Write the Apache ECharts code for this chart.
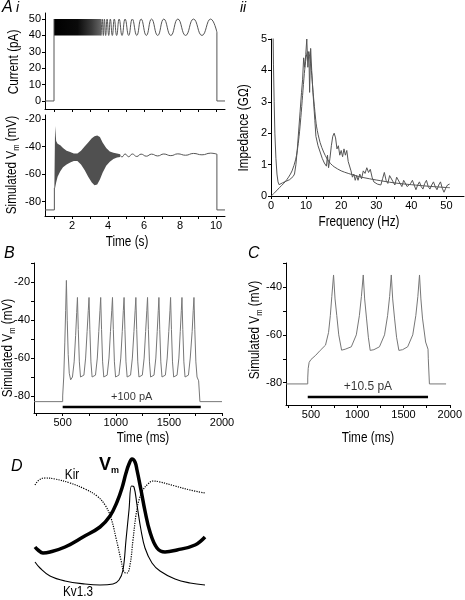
<!DOCTYPE html>
<html><head><meta charset="utf-8">
<script src="https://cdn.jsdelivr.net/npm/echarts@6/dist/echarts.min.js"></script>
<style>html,body{margin:0;padding:0;background:#fff}#c{width:465px;height:600px}</style>
</head><body><div id="c"></div>
<script>
// ---------- Panel A i : chirp current ----------
const curPreT = [0.5, 1.0, 1.0];
const curPreV = [0, 0, 50];
const curDenseT = [1.0, 3.62];          // dense (unresolved) oscillation range
const curDenseRange = [40, 50];
const curWaveT = [3.62,3.68,3.74,3.80,3.87,3.95,4.04,4.13,4.24,4.35,4.48,4.62,4.78,4.95,5.15,5.35,5.60,5.84,6.13,6.42,6.76,7.10,7.49,7.88,8.31,8.75,9.22,9.70,10.05];
const curWaveV = [40,50,40,50,40,50,40,50,40,50,40,50,40,50,40,50,40,50,40,50,40,50,40,50,40,50,40,50,42];
const curPostT = [10.05, 10.05, 10.5];
const curPostV = [42, 0, 0];

// ---------- Panel A i : simulated Vm ----------
const vmPreT = [0.5, 1.02, 1.02];
const vmPreV = [-86, -86, -70];
const vmEnvT    = [1.02,1.06,1.12,1.2,1.35,1.5,1.7,1.9,2.1,2.3,2.5,2.7,2.9,3.1,3.25,3.4,3.55,3.7,3.9,4.1,4.3,4.5,4.68];
const vmEnvHigh = [-70,-25,-36,-38,-39,-41,-43,-44,-45,-45,-43,-40,-37,-34,-32.5,-32,-33,-37,-41,-43.5,-44.5,-45,-45.5];
const vmEnvLow  = [-70,-70,-66,-62,-58,-55,-53,-51.5,-50.5,-50.5,-53,-57,-62,-66,-68,-67.5,-64,-59,-54,-51,-49,-48,-47.5];
const vmWaveT = [4.68,4.78,4.95,5.15,5.35,5.60,5.84,6.13,6.42,6.76,7.10,7.49,7.88,8.31,8.75,9.22,9.70,10.05];
const vmWaveV = [-46.5,-47.5,-45.4,-47.4,-45.4,-47.2,-45.5,-47,-45.5,-46.8,-45.4,-46.6,-45.3,-46.3,-45,-46,-44.8,-45.5];
const vmPostT = [10.05, 10.05, 10.5];
const vmPostV = [-45.5, -86, -86];

// ---------- Panel A ii : impedance ----------
const impExpF = [0.6,0.7,0.9,1.1,1.4,1.7,2.0,2.3,2.8,3.3,3.8,4.3,4.8,5.3,5.8,6.3,6.7,7.1,7.5,7.9,8.3,8.7,9.0,9.3,9.6,9.9,10.2,10.5,10.8,11.0,11.3,11.6,11.9,12.2,12.5,12.8,13.1,13.4,13.7,14.0,14.3,14.6,14.9,15.2,15.5,15.8,16.1,16.4,16.8,17.2,17.6,18.0,18.4,18.8,19.2,19.6,20.0,20.4,20.8,21.2,21.6,22.0,22.4,22.8,23.2,23.6,24.0,24.4,24.8,25.3,25.8,26.3,26.8,27.3,27.8,28.3,28.8,29.3,29.8,30.3,30.8,31.3,31.8,32.3,32.8,33.3,33.8,34.3,34.8,35.3,35.8,36.3,36.8,37.3,37.8,38.3,38.8,39.3,39.8,40.3,40.8,41.3,41.8,42.3,42.8,43.3,43.8,44.3,44.8,45.3,45.8,46.3,46.8,47.3,47.8,48.3,48.8,49.3,49.8,50.3,50.9];
const impExpZ = [5.1,4.2,3.0,2.0,1.2,0.7,0.45,0.36,0.38,0.42,0.4,0.47,0.45,0.52,0.5,0.62,0.7,1.0,1.5,2.1,2.7,3.3,3.7,4.4,4.1,4.5,5.0,4.1,4.6,3.3,4.7,4.0,3.4,2.9,2.4,1.9,1.75,1.6,1.65,1.4,1.45,1.2,1.25,1.05,1.1,0.95,1.3,0.9,1.2,1.6,1.9,2.0,1.85,1.5,1.6,1.3,1.45,1.25,1.5,1.3,1.45,1.1,1.15,0.8,0.6,0.7,0.5,0.65,0.5,0.7,0.55,0.8,0.72,0.9,0.75,0.85,0.6,0.45,0.5,0.38,0.42,0.35,0.55,0.75,0.5,0.4,0.65,0.7,0.45,0.35,0.6,0.65,0.4,0.3,0.5,0.55,0.3,0.25,0.4,0.5,0.35,0.2,0.35,0.45,0.3,0.22,0.4,0.5,0.3,0.22,0.35,0.45,0.3,0.2,0.35,0.45,0.25,0.12,0.25,0.35,0.38];
const impModF = [0,1,2,3,4,5,6,7,7.5,8,8.5,9,9.5,10,10.5,11,11.5,12,12.5,13,14,15,16,17,18,20,22,25,28,30,35,40,45,50,51];
const impModZ = [0,0.1,0.22,0.33,0.45,0.6,0.8,1.15,1.45,1.9,2.5,3.2,3.9,4.4,4.6,4.45,4.0,3.3,2.7,2.2,1.7,1.4,1.18,1.03,0.93,0.8,0.72,0.62,0.55,0.51,0.42,0.36,0.31,0.27,0.265];

// ---------- Panel B : +100 pA ----------
const bT = [230,500,500,510,520,528,535,543,552,562,575,592,608,622,632,639,647,657,668,682,700,716,730,741,748,756,766,777,791,809,826,840,851,858,866,876,887,901,919,936,950,962,969,977,987,998,1012,1030,1047,1061,1071,1078,1086,1096,1107,1121,1139,1156,1171,1182,1189,1197,1207,1218,1232,1250,1267,1281,1292,1299,1307,1317,1328,1342,1360,1377,1390,1400,1406,1414,1424,1435,1449,1467,1484,1499,1510,1516,1524,1534,1545,1559,1577,1594,1607,1617,1623,1631,1641,1652,1666,1684,1701,1719,1729,1736,1744,1754,1765,1780,1792,1792,2000];
const bV = [-83,-83,-80,-70,-52,-35,-19,-40,-58,-68,-71.5,-70,-62,-48,-36,-28,-45,-62,-70,-71,-69,-60,-46,-35,-28,-45,-62,-70,-71,-69,-60,-46,-35,-28,-45,-62,-70,-71,-69,-60,-46,-35,-28,-45,-62,-70,-71,-69,-60,-46,-35,-28,-45,-62,-70,-71,-69,-60,-46,-35,-28,-45,-62,-70,-71,-69,-60,-46,-35,-28,-45,-62,-70,-71,-69,-60,-46,-35,-28,-45,-62,-70,-71,-69,-60,-46,-35,-28,-45,-62,-70,-71,-69,-60,-46,-35,-28,-45,-62,-70,-71,-69,-60,-46,-35,-28,-45,-62,-70,-72,-72,-83,-83];
const bStim = [500, 1800];
const bStimLevel = -85.8;
const bStimText = '+100 pA';

// ---------- Panel C : +10.5 pA ----------
const cT = [230,465,465,470,480,500,552,600,657,690,709,725,744,760,779,800,831,870,936,990,1023,1045,1065,1080,1100,1120,1140,1180,1240,1295,1328,1350,1368,1383,1403,1425,1450,1490,1545,1600,1633,1655,1673,1688,1705,1739,1765,1768,1780,1960];
const cV = [-80.5,-80.5,-78,-74,-71.5,-70.3,-68.5,-66.5,-64.3,-59,-52,-44,-35,-45,-52,-60,-66.4,-66,-65,-60,-52,-44,-35,-45,-53,-61,-66.5,-66.2,-65,-60,-52,-44,-35,-45,-53,-61,-66.5,-66.2,-65,-60,-52,-44,-35,-45,-53,-63,-66,-70,-80.5,-80.5];
const cStim = [465, 1765];
const cStimLevel = -86;
const cStimText = '+10.5 pA';

// ---------- Panel D : schematic ----------
const dVmT  = [0,3,8,15,30,48,65,75,82,87,91,94,97,100,102,106,110,115,122,130,142,160,170];
const dVmY  = [43,40,37,38,43,53,63,74,88,102,117,126,131,128,120,100,79,58,42,38,40,45,53];
const dKirT = [0,4,10,20,35,50,62,70,76,81,86,89,92,95,98,101,104,108,113,118,125,140,155,170];
const dKirY = [105,110,112,111,107,101,94,85,72,52,30,18,17,25,50,75,90,100,106,109,108,104,100,97];
const dKvT  = [0,5,15,30,50,65,78,84,88,91,94,96.5,99,102,106,110,117,125,140,155,170];
const dKvY  = [28,22,14,9,6,5,6,10,20,50,80,104,103,85,60,42,27,19,11,7,5];

const FONT = '"Liberation Sans",Arial,sans-serif';
const pairs = (xs, ys) => xs.map((x, i) => [x, ys[i]]);
const plain = v => String(v);

function ax(grid, min, max, ticks, labels, extra) {
  return Object.assign({
    type: 'value', gridIndex: grid, min: min, max: max,
    axisLine: { show: true, onZero: false, lineStyle: { color: '#000', width: 1 } },
    axisTick: { show: true, inside: false, length: 3, customValues: ticks, lineStyle: { color: '#000' } },
    axisLabel: { show: !!labels, customValues: labels || [], formatter: plain, color: '#000', fontFamily: FONT, fontSize: 11, margin: 4 },
    splitLine: { show: false }
  }, extra || {});
}
function line(xi, data, color, width, extra) {
  return Object.assign({
    type: 'line', xAxisIndex: xi, yAxisIndex: xi, data: data, showSymbol: false, symbol: 'none',
    lineStyle: { color: color, width: width }, silent: true, animation: false, clip: false
  }, extra || {});
}
function band(xi, ts, hi, lo, fill) {
  return {
    type: 'custom', xAxisIndex: xi, yAxisIndex: xi, data: [[ts[0], hi[0]]], silent: true, animation: false,
    renderItem: function (params, api) {
      const pts = [];
      for (let i = 0; i < ts.length; i++) pts.push(api.coord([ts[i], hi[i]]));
      for (let i = ts.length - 1; i >= 0; i--) pts.push(api.coord([ts[i], lo[i]]));
      return { type: 'polygon', shape: { points: pts }, style: { fill: fill, stroke: null } };
    }
  };
}
function title(text, x, y, rotated, size) {
  const o = { type: 'text', x: x, y: y, scaleX: 0.84,
    style: { text: text, font: (size || 14) + 'px ' + FONT, fill: '#000', align: 'center', verticalAlign: 'middle' } };
  if (rotated) o.rotation = Math.PI / 2;
  return o;
}
const sub = { a: { fontFamily: FONT, fontSize: 14, lineHeight: 18, verticalAlign: 'middle' },
              s: { fontFamily: FONT, fontSize: 9, lineHeight: 18, verticalAlign: 'bottom' } };
function vmTitle(x, y) {
  return { type: 'text', x: x, y: y, rotation: Math.PI / 2, scaleX: 0.84,
    style: { text: '{a|Simulated V}{s|m}{a| (mV)}', rich: sub, fill: '#000', align: 'center', verticalAlign: 'middle' } };
}

const chart = echarts.init(document.getElementById('c'), null, { renderer: 'canvas' });
const intTicks = [1,2,3,4,5,6,7,8,9,10];
const msTicks = [250,500,750,1000,1250,1500,1750,2000];

const option = {
  animation: false,
  backgroundColor: '#fff',
  grid: [
    { left: 45, top: 13, width: 180, height: 96 },
    { left: 45, top: 115, width: 180, height: 101 },
    { left: 271, top: 39, width: 193, height: 157 },
    { left: 34, top: 263, width: 188, height: 150 },
    { left: 286, top: 263, width: 169, height: 142 },
    { left: 35, top: 455, width: 170, height: 135 }
  ],
  xAxis: [
    ax(0, 0.5, 10.5, intTicks, null),
    ax(1, 0.5, 10.5, intTicks, [2,4,6,8,10]),
    ax(2, 0, 55, [0,5,10,15,20,25,30,35,40,45,50], [0,10,20,30,40,50]),
    ax(3, 230, 2000, msTicks, [500,1000,1500,2000]),
    ax(4, 230, 2000, msTicks, [500,1000,1500,2000]),
    { type: 'value', gridIndex: 5, min: 0, max: 170, show: false }
  ],
  yAxis: [
    ax(0, -4.9, 53.7, [0,10,20,30,40,50], [0,10,20,30,40,50]),
    ax(1, -90.4, -17.1, [-20,-40,-60,-80], [-20,-40,-60,-80]),
    ax(2, 0, 5, [0,1,2,3,4,5], [0,1,2,3,4,5]),
    ax(3, -89, -9.8, [-10,-20,-30,-40,-50,-60,-70,-80], [-20,-40,-60,-80]),
    ax(4, -89.3, -30, [-30,-40,-50,-60,-70,-80], [-40,-60,-80]),
    { type: 'value', gridIndex: 5, min: 0, max: 135, show: false }
  ],
  series: [
    // A i current
    line(0, pairs(curPreT, curPreV), '#555', 1),
    band(0, curDenseT, [curDenseRange[1], curDenseRange[1]], [curDenseRange[0], curDenseRange[0]],
      new echarts.graphic.LinearGradient(0, 0, 1, 0, [
        { offset: 0, color: '#000' }, { offset: 0.5, color: '#0a0a0a' }, { offset: 0.8, color: '#3a3a3a' }, { offset: 1, color: '#666' }])),
    line(0, pairs(curWaveT, curWaveV), '#555', 1, { smooth: 0.5 }),
    line(0, pairs(curPostT, curPostV), '#555', 1),
    // A i Vm
    line(1, pairs(vmPreT, vmPreV), '#555', 1),
    band(1, vmEnvT, vmEnvHigh, vmEnvLow, '#505050'),
    line(1, pairs(vmWaveT, vmWaveV), '#555', 1, { smooth: 0.5 }),
    line(1, pairs(vmPostT, vmPostV), '#555', 1),
    // A ii
    line(2, pairs(impModF, impModZ), '#555', 1, { smooth: 0.3, clip: true }),
    line(2, pairs(impExpF, impExpZ), '#555', 1, { clip: true }),
    // B
    line(3, pairs(bT, bV), '#777', 1),
    line(3, pairs(bStim, [bStimLevel, bStimLevel]), '#000', 2.5),
    { type: 'scatter', xAxisIndex: 3, yAxisIndex: 3, symbolSize: 0, silent: true, animation: false,
      data: [[(bStim[0] + bStim[1]) / 2, bStimLevel]],
      label: { show: true, position: 'top', distance: 4, formatter: bStimText, color: '#000', fontFamily: FONT, fontSize: 11 } },
    // C
    line(4, pairs(cT, cV), '#777', 1),
    line(4, pairs(cStim, [cStimLevel, cStimLevel]), '#000', 2.5),
    { type: 'scatter', xAxisIndex: 4, yAxisIndex: 4, symbolSize: 0, silent: true, animation: false,
      data: [[(cStim[0] + cStim[1]) / 2, cStimLevel]],
      label: { show: true, position: 'top', distance: 4, formatter: cStimText, color: '#000', fontFamily: FONT, fontSize: 12 } },
    // D
    line(5, pairs(dKirT, dKirY), '#000', 1.2, { smooth: 0.4, lineStyle: { color: '#000', width: 1.2, type: [1.2, 1.2] } }),
    line(5, pairs(dKvT, dKvY), '#000', 1.1, { smooth: 0.4 }),
    line(5, pairs(dVmT, dVmY), '#000', 3.5, { smooth: 0.4 })
  ],
  graphic: [
    { type: 'text', x: 2, y: 0, style: { text: 'A', font: 'italic 16px ' + FONT, fill: '#000' } },
    { type: 'text', x: 16, y: 1, style: { text: 'i', font: 'italic 14px ' + FONT, fill: '#000' } },
    { type: 'text', x: 240, y: 1, style: { text: 'ii', font: 'italic 14px ' + FONT, fill: '#000' } },
    title('Current (pA)', 14, 62, true),
    vmTitle(12, 165),
    title('Time (s)', 127, 242, false),
    title('Impedance (GΩ)', 244, 128, true),
    title('Frequency (Hz)', 359, 222, false),
    { type: 'text', x: 4, y: 246, style: { text: 'B', font: 'italic 16px ' + FONT, fill: '#000' } },
    vmTitle(8, 348),
    title('Time (ms)', 143, 438, false),
    { type: 'text', x: 248, y: 246, style: { text: 'C', font: 'italic 16px ' + FONT, fill: '#000' } },
    vmTitle(255, 330),
    title('Time (ms)', 368, 438, false),
    { type: 'text', x: 11, y: 459, style: { text: 'D', font: 'italic 16px ' + FONT, fill: '#000' } },
    title('Kir', 72, 475, false),
    { type: 'text', x: 99, y: 465, style: { text: '{v|V}{m|m}', fill: '#000', align: 'left', verticalAlign: 'middle',
        rich: { v: { fontFamily: FONT, fontWeight: 'bold', fontSize: 18, lineHeight: 20, verticalAlign: 'middle' },
                m: { fontFamily: FONT, fontWeight: 'bold', fontSize: 9, lineHeight: 20, verticalAlign: 'bottom' } } } },
    title('Kv1.3', 78, 592, false)
  ]
};
chart.setOption(option);
</script></body></html>
